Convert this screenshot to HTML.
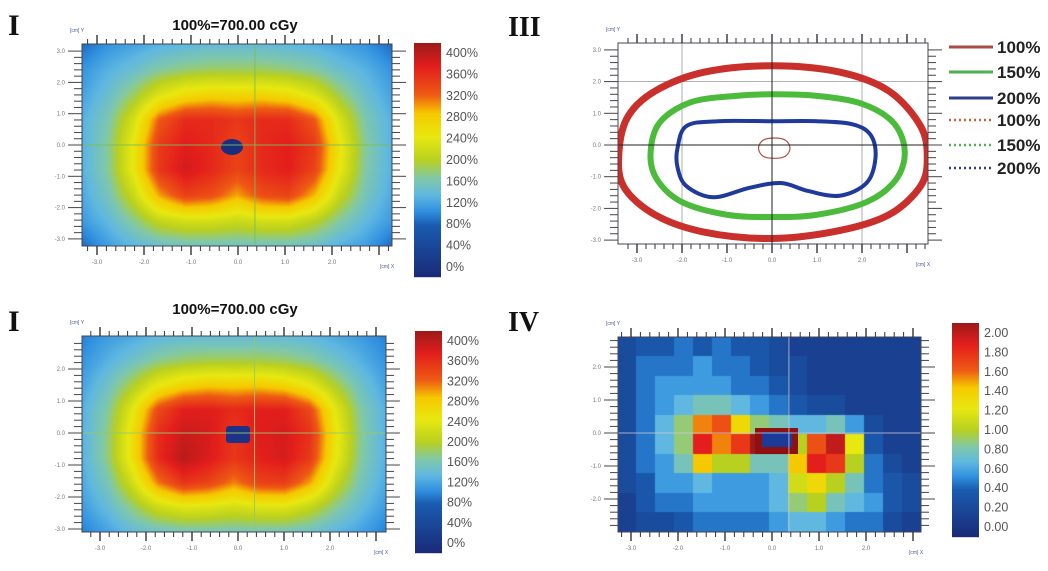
<!DOCTYPE html>
<html><head><meta charset="utf-8">
<style>
html,body{margin:0;padding:0;background:#fff;}
#root{position:relative;width:1048px;height:571px;overflow:hidden;background:#fff;font-family:"Liberation Sans",sans-serif;}
canvas{position:absolute;}
svg{position:absolute;left:0;top:0;}
</style></head>
<body>
<div id="root">
<canvas id="c1"></canvas>
<canvas id="c2"></canvas>
<canvas id="c4"></canvas>
<svg id="s" width="1048" height="571"></svg>
</div>
<script>
// ---- data ----
const doseGridTop = [
[95,115,125,135,140,145,145,145,140,135,125,115,95],
[115,135,150,170,180,185,185,185,180,170,150,135,115],
[125,150,185,230,255,265,262,265,255,230,185,150,125],
[135,165,225,315,350,350,340,350,350,315,225,165,135],
[135,172,245,338,362,352,330,352,360,338,245,172,135],
[135,172,245,340,370,352,330,350,360,330,240,168,135],
[130,160,215,292,332,322,290,322,330,285,210,160,130],
[120,142,175,212,226,226,216,226,226,205,170,142,120],
[95,122,140,152,158,158,158,158,158,152,135,122,95]];
const doseGridBottom = [
[105,120,130,140,145,145,145,145,145,140,130,120,105],
[115,135,155,175,185,190,190,190,185,175,155,135,115],
[125,155,195,240,265,275,272,275,265,240,195,155,125],
[135,170,238,325,360,362,350,360,360,325,238,170,135],
[135,178,255,348,375,368,340,362,368,345,250,175,135],
[135,178,255,350,385,365,340,358,368,338,245,172,135],
[130,162,222,302,342,330,300,330,335,292,215,162,130],
[120,145,180,218,234,232,222,232,232,210,175,145,120],
[105,125,145,155,162,162,162,162,162,155,140,125,105]];
const ratioGrid = [
[.3,.4,.4,.5,.4,.5,.4,.4,.3,.2,.2,.2,.2,.2,.2,.2],
[.3,.5,.5,.5,.6,.5,.5,.4,.3,.3,.2,.2,.2,.2,.2,.2],
[.3,.5,.6,.6,.6,.6,.5,.5,.4,.3,.2,.2,.2,.2,.2,.2],
[.3,.5,.6,.7,.8,.8,.7,.6,.5,.4,.3,.3,.2,.2,.2,.2],
[.3,.5,.7,.9,1.5,1.6,1.3,.9,.8,.7,.7,.8,.6,.3,.2,.2],
[.3,.5,.7,.9,1.8,1.5,1.7,2.0,2.0,1.0,1.6,1.9,1.2,.4,.2,.2],
[.3,.5,.6,.8,1.4,1.0,1.0,.8,.8,1.4,1.8,1.7,1.0,.5,.3,.2],
[.3,.4,.6,.6,.7,.6,.6,.6,.7,1.1,1.3,1.0,.8,.5,.4,.3],
[.2,.4,.5,.5,.6,.6,.6,.6,.7,.9,1.0,.8,.7,.6,.4,.3],
[.2,.3,.3,.4,.5,.5,.5,.5,.6,.7,.7,.6,.5,.5,.3,.2]];
const doseTicks = ["400%","360%","320%","280%","240%","200%","160%","120%","80%","40%","0%"];
const ratioTicks = ["2.00","1.80","1.60","1.40","1.20","1.00","0.80","0.60","0.40","0.20","0.00"];
const xTickLabels = ["-3.0","-2.0","-1.0","0.0","1.0","2.0"];
const xTickValues = [-3,-2,-1,0,1,2];
const contour100 = [[-3.4,-0.2],[-3.2,0.9],[-2.6,1.7],[-1.5,2.3],[0,2.5],[1.5,2.3],[2.6,1.7],[3.3,0.6],[3.45,-0.4],[3.3,-1.3],[2.6,-2.2],[1.5,-2.7],[0,-2.95],[-1.5,-2.75],[-2.6,-2.2],[-3.3,-1.3]];
const contour150 = [[-2.7,-0.3],[-2.5,0.7],[-1.8,1.35],[-0.8,1.55],[0,1.6],[1,1.55],[2,1.3],[2.7,0.7],[2.95,-0.2],[2.75,-1.1],[2.1,-1.8],[1,-2.2],[0,-2.27],[-1,-2.2],[-2,-1.8],[-2.55,-1.1]];
const contour200 = [[-2.1,-0.1],[-1.9,0.6],[-1.2,0.75],[0,0.75],[1,0.75],[1.8,0.65],[2.2,0.3],[2.3,-0.4],[2.1,-1.2],[1.5,-1.6],[0.8,-1.45],[0.2,-1.2],[-0.5,-1.35],[-1.3,-1.65],[-1.9,-1.3],[-2.1,-0.7]];
const contourHole = [[-0.3,-0.1],[-0.2,0.15],[0.05,0.22],[0.3,0.15],[0.4,-0.1],[0.3,-0.35],[0.05,-0.42],[-0.2,-0.35]];
const legendLabels = ["100%","150%","200%","100%","150%","200%"];

// ---- colormaps ----
const doseStops=[[0,[158,26,26]],[0.1,[227,30,28]],[0.22,[238,90,20]],[0.3,[246,200,0]],[0.4,[232,232,16]],[0.5,[184,208,32]],[0.58,[128,200,170]],[0.65,[96,184,224]],[0.72,[48,144,224]],[0.78,[26,92,176]],[1,[26,42,120]]];
function cmap(f){f=Math.max(0,Math.min(1,f));for(let i=1;i<doseStops.length;i++){if(f<=doseStops[i][0]){const a=doseStops[i-1],b=doseStops[i];const t=(f-a[0])/(b[0]-a[0]);return a[1].map((v,k)=>Math.round(v+(b[1][k]-v)*t));}}return doseStops[doseStops.length-1][1];}

const NS="http://www.w3.org/2000/svg";
const svg=document.getElementById('s');
function el(tag,attrs,parent){const e=document.createElementNS(NS,tag);for(const k in attrs)e.setAttribute(k,attrs[k]);(parent||svg).appendChild(e);return e;}

function drawSmooth(cv,P,grid,maxV){
  cv.style.left=P.x0+'px';cv.style.top=P.y0+'px';
  const W=P.x1-P.x0,H=P.y1-P.y0;cv.width=W;cv.height=H;
  const ctx=cv.getContext('2d');const img=ctx.createImageData(W,H);
  const R=grid.length,C=grid[0].length;
  for(let y=0;y<H;y++)for(let x=0;x<W;x++){
    const gx=x/(W-1)*(C-1),gy=y/(H-1)*(R-1);
    const i=Math.min(C-2,Math.floor(gx)),j=Math.min(R-2,Math.floor(gy));
    const tx=gx-i,ty=gy-j;
    const v=grid[j][i]*(1-tx)*(1-ty)+grid[j][i+1]*tx*(1-ty)+grid[j+1][i]*(1-tx)*ty+grid[j+1][i+1]*tx*ty;
    const c=cmap(1-v/maxV);const o=(y*W+x)*4;
    img.data[o]=c[0];img.data[o+1]=c[1];img.data[o+2]=c[2];img.data[o+3]=255;}
  ctx.putImageData(img,0,0);
}
function drawBlocks(cv,P,grid,maxV){
  cv.style.left=P.x0+'px';cv.style.top=P.y0+'px';
  const W=P.x1-P.x0,H=P.y1-P.y0;cv.width=W;cv.height=H;
  const ctx=cv.getContext('2d');const R=grid.length,C=grid[0].length;
  ctx.fillStyle='#17358f';ctx.fillRect(0,0,W,H);
  for(let j=0;j<R;j++)for(let i=0;i<C;i++){const c=cmap(1-grid[j][i]/maxV);
    ctx.fillStyle='rgb('+c.join(',')+')';
    ctx.fillRect(Math.floor(i*W/C),Math.floor(j*H/R),Math.ceil(W/C)+1,Math.ceil(H/R)+1);}
}
function axes(P,name){
  const g=el('g',{});
  const X=v=>P.xz+v*P.xs,Y=v=>P.yz-v*P.ys;
  el('rect',{x:P.x0,y:P.y0,width:P.x1-P.x0,height:P.y1-P.y0,fill:'none',stroke:'#445',"stroke-width":1},g);
  for(let k=-40;k<=40;k++){const v=k/5;const px=X(v);const major=k%5===0;
    if(px>=P.x0+2&&px<=P.x1-2){const L=major?9:5;
      el('line',{x1:px,y1:P.y1,x2:px,y2:P.y1+L,stroke:'#333','stroke-width':major?1.4:1},g);
      el('line',{x1:px,y1:P.y0,x2:px,y2:P.y0-L,stroke:'#333','stroke-width':major?1.4:1},g);}
    const py=Y(v);
    if(py>=P.y0+2&&py<=P.y1-2){const L=major?14:8;
      el('line',{x1:P.x0,y1:py,x2:P.x0-L,y2:py,stroke:'#444','stroke-width':1},g);
      el('line',{x1:P.x1,y1:py,x2:P.x1+L,y2:py,stroke:'#444','stroke-width':1},g);
      if(major){const t=el('text',{x:P.x0-17,y:py+2,'font-size':6,fill:'#777','text-anchor':'end',},g);t.textContent=(v===0?'0.0':v.toFixed(1));}}
  }
  xTickValues.forEach((v,i)=>{const t=el('text',{x:X(v),y:P.y1+18,'font-size':6,fill:'#777','text-anchor':'middle',},g);t.textContent=xTickLabels[i];});
  let t=el('text',{x:P.x0-12,y:P.y0-12,'font-size':5,fill:'#4a5a9a',},g);t.textContent='[cm] Y';
  t=el('text',{x:P.x1-12,y:P.y1+22,'font-size':5,fill:'#4a5a9a',},g);t.textContent='[cm] X';
}
function crosshair(P,cx,cy,color){
  el('line',{x1:P.x0,y1:P.yz-cy*P.ys,x2:P.x1,y2:P.yz-cy*P.ys,stroke:color,'stroke-width':1,});
  el('line',{x1:P.xz+cx*P.xs,y1:P.y0,x2:P.xz+cx*P.xs,y2:P.y1,stroke:color,'stroke-width':1,});
}
function colorbar(x,y0,y1,labels,name){
  const g=el('g',{});
  const H=y1-y0;
  for(let k=0;k<H;k++){const c=cmap(k/(H-1));el('rect',{x:x,y:y0+k,width:27,height:1.2,fill:'rgb('+c.join(',')+')'},g);}
  labels.forEach((l,i)=>{const t=el('text',{x:x+32,y:y0+10+i*(H-20)/(labels.length-1)+4,'font-size':12.5,fill:'#555',},g);t.textContent=l;});
}
function title(x,y,txt,size,serif,name){const t=el('text',{x:x,y:y,'font-size':size,'font-weight':'bold','fill':'#111','font-family':serif?'Liberation Serif':'Liberation Sans','text-anchor':serif?'start':'middle',});t.textContent=txt;}

// panels
const P1={x0:82,x1:392,y0:44,y1:246,xz:238,xs:47,yz:145,ys:31.3};
const P2={x0:82,x1:386,y0:336,y1:532,xz:238,xs:46,yz:433,ys:32};
const P3={x0:618,x1:928,y0:43,y1:244,xz:772,xs:45,yz:145,ys:31.7};
const P4={x0:618,x1:921,y0:337,y1:532,xz:772,xs:47,yz:433,ys:33};

drawSmooth(document.getElementById('c1'),P1,doseGridTop,400);
drawSmooth(document.getElementById('c2'),P2,doseGridBottom,400);
drawBlocks(document.getElementById('c4'),P4,ratioGrid,2);

// center blobs
el('ellipse',{cx:232,cy:147,rx:11,ry:8,fill:'#1a2f7e',});
el('rect',{x:226,y:426,width:24,height:17,rx:3,fill:'#1f3386',});
el('rect',{x:755,y:428,width:43,height:26,fill:'#8e1010',});
el('rect',{x:762,y:432,width:30,height:15,fill:'#1c3a98',});

crosshair(P1,0.36,0,'rgba(120,190,90,0.9)');
crosshair(P2,0.36,0,'rgba(150,200,110,0.9)');
crosshair(P4,0.36,0,'rgba(200,200,210,0.8)');

// panel III grid and contours
[-2,2].forEach(v=>{el('line',{x1:P3.xz+v*P3.xs,y1:P3.y0,x2:P3.xz+v*P3.xs,y2:P3.y1,stroke:'#999','stroke-width':0.8,});});
el('line',{x1:P3.x0,y1:P3.yz-2*P3.ys,x2:P3.x1,y2:P3.yz-2*P3.ys,stroke:'#999','stroke-width':0.8,});
el('clipPath',{id:'clip3'});
el('rect',{x:P3.x0,y:P3.y0,width:P3.x1-P3.x0,height:P3.y1-P3.y0},document.getElementById('clip3'));
function smoothPath(pts,P){const p=pts.map(q=>[P.xz+q[0]*P.xs,P.yz-q[1]*P.ys]);const n=p.length;let d='M'+p[0][0]+','+p[0][1];
  for(let i=0;i<n;i++){const p0=p[(i-1+n)%n],p1=p[i],p2=p[(i+1)%n],p3=p[(i+2)%n];
    d+=' C'+(p1[0]+(p2[0]-p0[0])/6)+','+(p1[1]+(p2[1]-p0[1])/6)+' '+(p2[0]-(p3[0]-p1[0])/6)+','+(p2[1]-(p3[1]-p1[1])/6)+' '+p2[0]+','+p2[1];}
  return d+'Z';}
const cg=el('g',{'clip-path':'url(#clip3)',});
el('path',{d:smoothPath(contour100,P3),fill:'none',stroke:'#c9302c','stroke-width':7,},cg);
el('path',{d:smoothPath(contour150,P3),fill:'none',stroke:'#4cbb3c','stroke-width':6,},cg);
el('path',{d:smoothPath(contour200,P3),fill:'none',stroke:'#1f3a9a','stroke-width':4,},cg);
el('path',{d:smoothPath(contourHole,P3),fill:'none',stroke:'#b05040','stroke-width':1.2,},cg);
crosshair(P3,0,0,'#222');

axes(P1,'panel-1');axes(P2,'panel-2');axes(P3,'panel-3');axes(P4,'panel-4');
colorbar(414,43,277,doseTicks,'dose-colorbar-top');
colorbar(415,331,553,doseTicks,'dose-colorbar-bottom');
colorbar(952,323,537,ratioTicks,'ratio-colorbar');

title(235,30,'100%=700.00 cGy',15,false,'title-top');
title(235,314,'100%=700.00 cGy',15,false,'title-bottom');
title(8,35,'I',30,true,'panel-label-I-top');
title(8,331,'I',30,true,'panel-label-I-bottom');
title(508,36,'III',28,true,'panel-label-III');
title(508,331,'IV',28,true,'panel-label-IV');

// legend
const legColors=['#a84a45','#4caf50','#2e3f8a','#c8603a','#4caf50','#2e3f8a'];
const legY=[47,72,98,120,145,168];
legendLabels.forEach((l,i)=>{const g=el('g',{});
  el('line',{x1:949,y1:legY[i],x2:993,y2:legY[i],stroke:legColors[i],'stroke-width':i<3?3:2.5,'stroke-dasharray':i<3?'none':'2 3'},g);
  const t=el('text',{x:997,y:legY[i]+6,'font-size':17,'font-weight':'bold',fill:'#222'},g);t.textContent=l;});
</script>
</body></html>
